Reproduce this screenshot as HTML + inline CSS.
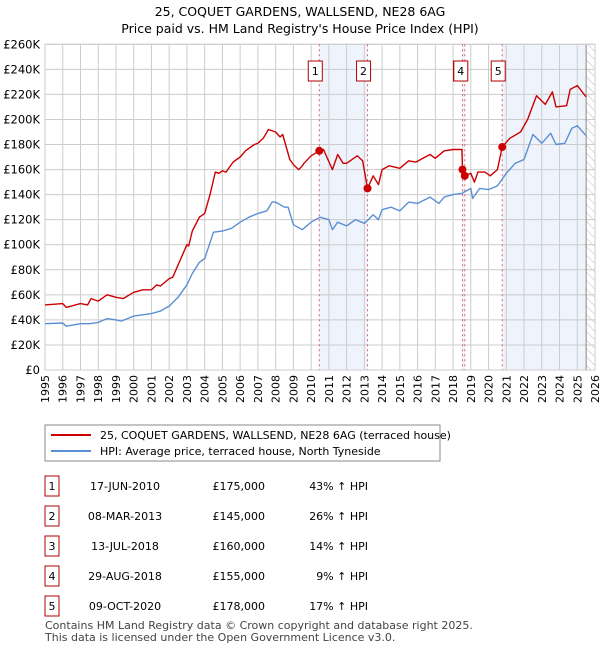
<!DOCTYPE html>
<html><head><meta charset="utf-8"><style>
body{margin:0;background:#fff;font-family:"Liberation Sans","DejaVu Sans",sans-serif;}
svg text{font-family:"DejaVu Sans","Liberation Sans",sans-serif;}
</style></head><body>
<svg id="c" width="600" height="650" xmlns="http://www.w3.org/2000/svg">
<text x="300" y="16" text-anchor="middle" font-size="12.5">25, COQUET GARDENS, WALLSEND, NE28 6AG</text>
<text x="300" y="33" text-anchor="middle" font-size="12.5">Price paid vs. HM Land Registry's House Price Index (HPI)</text>
<g id="plot"></g>
<rect x="45" y="425" width="395" height="36" fill="#fff" stroke="#888"/>
<line x1="51" y1="435" x2="91" y2="435" stroke="#cc0000" stroke-width="2"/>
<text x="100" y="439" font-size="11">25, COQUET GARDENS, WALLSEND, NE28 6AG (terraced house)</text>
<line x1="51" y1="451" x2="91" y2="451" stroke="#5b8fd4" stroke-width="2"/>
<text x="100" y="455" font-size="11">HPI: Average price, terraced house, North Tyneside</text>
<g id="tbl"></g>
<text x="45" y="629" font-size="11" fill="#444">Contains HM Land Registry data © Crown copyright and database right 2025.</text>
<text x="45" y="641" font-size="11" fill="#444">This data is licensed under the Open Government Licence v3.0.</text>
</svg>
<script>
const hpiYears=[1995,1996,1996.2,1997,1997.5,1998,1998.5,1999,1999.3,2000,2001,2001.5,2002,2002.5,2003,2003.3,2003.7,2004,2004.5,2005,2005.5,2006,2006.5,2007,2007.5,2007.8,2008,2008.5,2008.7,2009,2009.5,2010,2010.5,2011,2011.2,2011.5,2012,2012.5,2013,2013.5,2013.8,2014,2014.5,2015,2015.5,2016,2016.7,2017.2,2017.5,2018,2018.5,2019,2019.1,2019.5,2020,2020.5,2021,2021.5,2022,2022.5,2023,2023.5,2023.8,2024.3,2024.7,2025,2025.5];
const hpiValues=[37,37.5,35,37,37,38,41,40,39,43,45,47,51,58,68,77,86,89,110,111,113,118,122,125,127,134,134,130,130,116,112,118,122,120,112,118,115,120,117,124,120,128,130,127,134,133,138,133,138,140,141,145,137,145,144,147,157,165,168,188,181,189,180,181,193,195,187];
const ppYears=[1995,1996,1996.2,1997,1997.4,1997.6,1998,1998.5,1999,1999.4,2000,2000.5,2001,2001.3,2001.5,2002,2002.2,2002.6,2003,2003.1,2003.3,2003.7,2004,2004.3,2004.6,2004.8,2005,2005.2,2005.6,2006,2006.3,2006.8,2007,2007.3,2007.6,2008,2008.25,2008.4,2008.8,2009,2009.3,2009.5,2009.6,2010,2010.46,2010.7,2011.2,2011.5,2011.8,2012,2012.6,2012.9,2013.18,2013.5,2013.8,2014,2014.4,2015,2015.5,2015.9,2016.3,2016.7,2017,2017.5,2018,2018.5,2018.53,2018.66,2019,2019.2,2019.4,2019.8,2020.1,2020.5,2020.77,2021.2,2021.8,2022.2,2022.7,2023.2,2023.6,2023.8,2024.4,2024.6,2025,2025.5];
const ppValues=[52,53,50,53,52,57,55,60,58,57,62,64,64,68,67,73,74,87,100,99,111,122,125,140,158,157,159,158,166,170,175,180,181,185,192,190,186,188,168,164,160,163,165,171,175,176,160,172,165,165,171,167,145,155,148,160,163,161,167,166,169,172,169,175,176,176,160,155,157,150,158,158,155,160,178,185,190,200,219,212,222,210,211,224,227,218];
const saleLabels=["1","2","3","4","5"];
const saleYears=[2010.46,2013.18,2018.53,2018.66,2020.77];
const saleValues=[175,145,160,155,178];
const saleDates=["17-JUN-2010","08-MAR-2013","13-JUL-2018","29-AUG-2018","09-OCT-2020"];
const salePrices=["£175,000","£145,000","£160,000","£155,000","£178,000"];
const saleHpi=["43% ↑ HPI","26% ↑ HPI","14% ↑ HPI","9% ↑ HPI","17% ↑ HPI"];
const yTicks=[0,20,40,60,80,100,120,140,160,180,200,220,240,260];
const xTicks=[];for(let y=1995;y<=2026;y++)xTicks.push(y);

const NS="http://www.w3.org/2000/svg";
const L=45,R=595,T=44.3,B=370,X0=1995,X1=2026,YMAX=260,HATCH=2025.5;
const sx=y=>L+(y-X0)/(X1-X0)*(R-L);
const sy=v=>B-v/YMAX*(B-T);
function mk(tag,at,parent){const e=document.createElementNS(NS,tag);for(const k in at)e.setAttribute(k,at[k]);parent.appendChild(e);return e;}
const g=document.getElementById('plot');
const defs=mk('defs',{},g);
const pat=mk('pattern',{id:'h',width:6,height:6,patternUnits:'userSpaceOnUse',patternTransform:'rotate(-45)'},defs);
mk('line',{x1:0,y1:0,x2:0,y2:6,stroke:'#bbb','stroke-width':1},pat);
let s1=mk('rect',{x:sx(saleYears[0]),y:T,width:sx(saleYears[1])-sx(saleYears[0]),height:B-T,fill:'#eef3fc'},g);

let s2=mk('rect',{x:sx(saleYears[2]),y:T,width:sx(saleYears[3])-sx(saleYears[2]),height:B-T,fill:'#eef3fc'},g);

let s3=mk('rect',{x:sx(saleYears[4]),y:T,width:sx(HATCH)-sx(saleYears[4]),height:B-T,fill:'#eef3fc'},g);

let hr=mk('rect',{x:sx(HATCH),y:T,width:R-sx(HATCH),height:B-T,fill:'url(#h)'},g);

yTicks.forEach(v=>{
 mk('line',{x1:L,x2:R,y1:sy(v),y2:sy(v),stroke:'#ccc'},g);
 const t=mk('text',{x:L-5,y:sy(v)+4,'text-anchor':'end','font-size':11.5},g);t.textContent=v===0?'£0':'£'+v+'K';
 
});
xTicks.forEach(y=>{
 mk('line',{x1:sx(y),x2:sx(y),y1:T,y2:B,stroke:'#ccc'},g);
 const t=mk('text',{x:0,y:0,'text-anchor':'end','font-size':11,transform:`translate(${sx(y)+4},${B+5}) rotate(-90)`},g);t.textContent=y;
 
});
mk('line',{x1:sx(HATCH),x2:sx(HATCH),y1:T,y2:B,stroke:'#888'},g);
mk('rect',{x:L,y:T,width:R-L,height:B-T,fill:'none',stroke:'#ccc'},g);
saleYears.forEach((y,i)=>{
 const l=mk('line',{x1:sx(y),x2:sx(y),y1:T,y2:B,stroke:'#e06070','stroke-dasharray':'2,3'},g);
 
});
function path(xs,vs,col,name){
 const d=xs.map((x,i)=>(i?'L':'M')+sx(x).toFixed(1)+','+sy(vs[i]).toFixed(1)).join('');
 const p=mk('path',{d,fill:'none',stroke:col,'stroke-width':1.4,'stroke-linejoin':'round'},g);
 
}
path(hpiYears,hpiValues,'#5b8fd4','hpi-line');
path(ppYears,ppValues,'#cc0000','price-paid-line');
saleYears.forEach((y,i)=>{
 const c=mk('circle',{cx:sx(y),cy:sy(saleValues[i]),r:4,fill:'#cc0000'},g);
 
});
[0,1,2,3,4].forEach(i=>{
 const off=i===2?-2:-4;
 const bx=sx(saleYears[i])+off-7;
 const r=mk('rect',{x:bx,y:61,width:14,height:20,fill:'#fff',stroke:'#b00000'},g);
 
 const t=mk('text',{x:bx+7,y:75,'text-anchor':'middle','font-size':11},g);t.textContent=saleLabels[i];
 
});
const tb=document.getElementById('tbl');
saleLabels.forEach((s,i)=>{
 const y=486+i*30;
 const r=mk('rect',{x:45,y:y-10,width:14,height:20,fill:'#fff',stroke:'#b00000'},tb);
 
 const a=mk('text',{x:52,y:y+4,'text-anchor':'middle','font-size':11},tb);a.textContent=s;
 
 const b=mk('text',{x:125,y:y+4,'text-anchor':'middle','font-size':11},tb);b.textContent=saleDates[i];
 
 const c=mk('text',{x:265,y:y+4,'text-anchor':'end','font-size':11},tb);c.textContent=salePrices[i];
 
 const d=mk('text',{x:368,y:y+4,'text-anchor':'end','font-size':11},tb);d.textContent=saleHpi[i];
 
});
</script>
</body></html>
